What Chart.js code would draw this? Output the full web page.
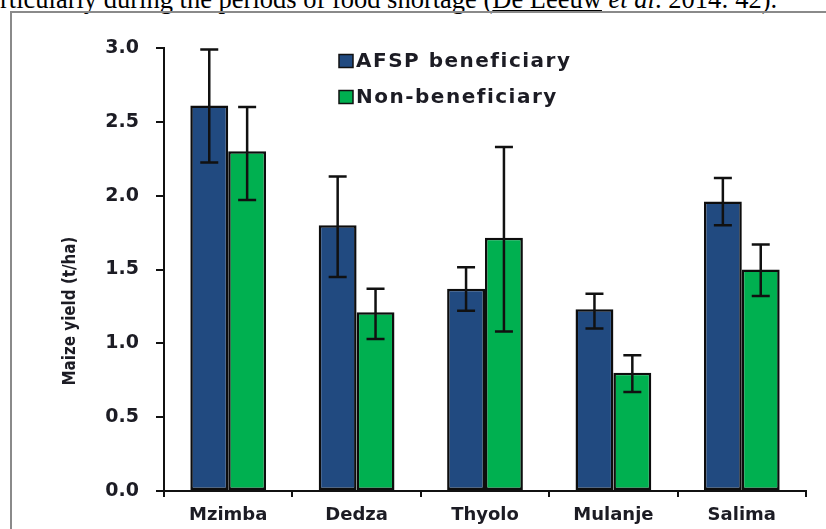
<!DOCTYPE html>
<html>
<head>
<meta charset="utf-8">
<script src="https://cdn.jsdelivr.net/npm/chart.js@4"></script>
<style>
  html, body { margin: 0; padding: 0; background: #fff; }
  body { width: 826px; height: 529px; position: relative; overflow: hidden; }
  #topText { position: absolute; left: 0; top: -16px; white-space: nowrap;
    font-family: "Liberation Serif", "Times New Roman", serif; font-size: 26.5px; line-height: 30px; color: #000; }
  #topText u { text-decoration: underline; }
  #frame { position: absolute; left: 10px; top: 11px; width: 830px; height: 540px;
    border-left: 2px solid #8a8a8a; border-top: 2px solid #8a8a8a; }
  #c { position: absolute; left: 0; top: 0; }
</style>
</head>
<body>
<div id="topText">rticularly during the periods of food shortage (<u>De Leeuw</u> <i>et al</i>. 2014: 42).</div>
<div id="frame"></div>
<canvas id="c" width="826" height="529" style="width:826px;height:529px"></canvas>
<script>
const categories = ["Mzimba", "Dedza", "Thyolo", "Mulanje", "Salima"];
const seriesNames = ["AFSP beneficiary", "Non-beneficiary"];
const afspValues = [2.61, 1.80, 1.37, 1.23, 1.96];
const afspErrLow = [2.225, 1.45, 1.22, 1.10, 1.80];
const afspErrHigh = [2.99, 2.13, 1.515, 1.335, 2.12];
const nonValues = [2.30, 1.21, 1.715, 0.80, 1.50];
const nonErrLow = [1.97, 1.03, 1.08, 0.67, 1.32];
const nonErrHigh = [2.60, 1.37, 2.33, 0.92, 1.67];
const yTicks = [0.0, 0.5, 1.0, 1.5, 2.0, 2.5, 3.0];
const yAxisTitle = "Maize yield (t/ha)";

const BLUE = "#214a80";
const GREEN = "#00b050";
const INK = "#1c1c24";

const errorBarPlugin = {
  id: "errorBars",
  afterDatasetsDraw(chart) {
    const ctx = chart.ctx;
    const ys = chart.scales.y;
    chart.data.datasets.forEach((ds, di) => {
      const meta = chart.getDatasetMeta(di);
      meta.data.forEach((bar, i) => {
        const x = bar.x;
        const yLo = ys.getPixelForValue(ds.errLow[i]);
        const yHi = ys.getPixelForValue(ds.errHigh[i]);
        ctx.save();
        ctx.strokeStyle = "#111";
        ctx.lineWidth = 2.5;
        ctx.beginPath();
        ctx.moveTo(x, yLo); ctx.lineTo(x, yHi);
        ctx.moveTo(x - 9, yHi); ctx.lineTo(x + 9, yHi);
        ctx.moveTo(x - 9, yLo); ctx.lineTo(x + 9, yLo);
        ctx.stroke();
        ctx.restore();
      });
    });
  }
};

const customLegendPlugin = {
  id: "customLegend",
  afterDraw(chart) {
    const ctx = chart.ctx;
    const rows = [61, 97];
    chart.data.datasets.forEach((ds, di) => {
      const cy = rows[di];
      ctx.save();
      ctx.fillStyle = ds.backgroundColor;
      ctx.strokeStyle = "#111";
      ctx.lineWidth = 1.5;
      ctx.fillRect(339, cy - 6.5, 14, 13);
      ctx.strokeRect(339, cy - 6.5, 14, 13);
      ctx.fillStyle = INK;
      ctx.font = "bold 20px 'DejaVu Sans'";
      ctx.textBaseline = "middle";
      ctx.textAlign = "left";
      if ("letterSpacing" in ctx) ctx.letterSpacing = "1.5px";
      ctx.fillText(ds.label, 356, cy + 1);
      ctx.restore();
    });
  }
};

const yTitlePlugin = {
  id: "yTitle",
  afterDraw(chart) {
    const ctx = chart.ctx;
    ctx.save();
    ctx.translate(70, 311);
    ctx.rotate(-Math.PI / 2);
    ctx.scale(0.84, 1);
    ctx.fillStyle = INK;
    ctx.font = "bold 18px 'DejaVu Sans'";
    ctx.textAlign = "center";
    ctx.textBaseline = "middle";
    ctx.fillText(yAxisTitle, 0, 0);
    ctx.restore();
  }
};

new Chart(document.getElementById("c"), {
  type: "bar",
  data: {
    labels: categories,
    datasets: [
      { label: seriesNames[0], data: afspValues, errLow: afspErrLow, errHigh: afspErrHigh,
        backgroundColor: BLUE, borderColor: "#0d0d0d", borderWidth: 2.5, borderSkipped: false },
      { label: seriesNames[1], data: nonValues, errLow: nonErrLow, errHigh: nonErrHigh,
        backgroundColor: GREEN, borderColor: "#0d0d0d", borderWidth: 2.5, borderSkipped: false }
    ]
  },
  options: {
    responsive: false,
    animation: false,
    devicePixelRatio: 1,
    layout: { padding: { top: 48, right: 20, left: 0, bottom: 0 } },
    datasets: { bar: { categoryPercentage: 0.59, barPercentage: 1.0 } },
    plugins: { legend: { display: false }, tooltip: { enabled: false } },
    scales: {
      x: {
        afterFit(s) { s.height = 38; },
        border: { display: true, color: "#111", width: 2 },
        grid: { display: true, drawOnChartArea: false, drawTicks: true, tickLength: 6, color: "#111", lineWidth: 2, offset: true },
        ticks: { color: INK, font: { family: "DejaVu Sans", size: 18, weight: "bold" }, padding: 8 }
      },
      y: {
        min: 0, max: 3,
        afterFit(s) { s.width = 164; },
        afterBuildTicks(s) { s.ticks = yTicks.map(v => ({ value: v })); },
        border: { display: true, color: "#111", width: 2 },
        grid: { display: true, drawOnChartArea: false, drawTicks: true, tickLength: 8, color: "#111", lineWidth: 2 },
        ticks: { color: INK, font: { family: "DejaVu Sans", size: 19, weight: "bold" }, padding: 17,
          callback: v => Number(v).toFixed(1) }
      }
    }
  },
  plugins: [errorBarPlugin, customLegendPlugin, yTitlePlugin]
});
</script>
</body>
</html>
